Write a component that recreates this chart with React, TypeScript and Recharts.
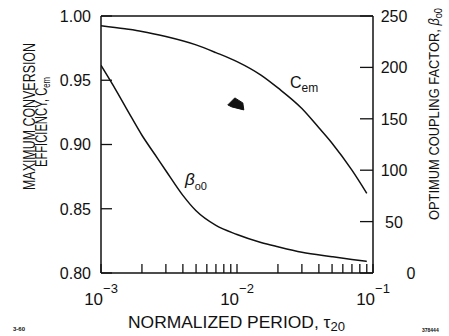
import React from 'react';
import { ComposedChart, Line, Scatter, XAxis, YAxis } from 'recharts';

// ---- data ----
const xTicks = [
  0.001, 0.002, 0.003, 0.004, 0.005, 0.006, 0.007, 0.008, 0.009,
  0.01, 0.02, 0.03, 0.04, 0.05, 0.06, 0.07, 0.08, 0.09, 0.1,
];
const xMajorTicks = [0.01];
const leftTicks = [0.8, 0.85, 0.9, 0.95, 1.0];
const leftTickLabels = ['0.80', '0.85', '0.90', '0.95', '1.00'];
const rightTicks = [0, 50, 100, 150, 200, 250];

const cemX = [0.001, 0.0015, 0.002, 0.003, 0.005, 0.007, 0.01, 0.015, 0.02, 0.03, 0.04, 0.05, 0.07, 0.09];
const cemY = [0.9925, 0.99, 0.988, 0.984, 0.9775, 0.9715, 0.9645, 0.954, 0.944, 0.928, 0.913, 0.901, 0.88, 0.862];

const betaX = [0.001, 0.0013, 0.0016, 0.002, 0.0025, 0.003, 0.004, 0.005, 0.007, 0.01, 0.015, 0.02, 0.03, 0.05, 0.07, 0.09];
const betaY = [202, 177, 156, 134, 115, 99.5, 75.5, 60.5, 46.3, 37.5, 29.7, 25.5, 20.2, 15.9, 13.2, 11.3];

const markX = [0.0098];
const markY = [0.9316];

const cemData = cemX.map((x, i) => ({ x, y: cemY[i] }));
const betaData = betaX.map((x, i) => ({ x, y: betaY[i] }));
const markData = markX.map((x, i) => ({ x, y: markY[i] }));

const INK = '#111';
const FONT = '"Liberation Sans", Arial, sans-serif';
const TICK_LINE = { stroke: INK, strokeWidth: 1.3 };

const isMajor = (v: number) => Math.abs(Math.log10(v) - Math.round(Math.log10(v))) < 1e-6;

const BottomTick = (props: any) => {
  const x = Number(props.x);
  const y = Number(props.y);
  const v = Number(props.payload.value);
  if (!isMajor(v)) return <g />;
  const exp = Math.round(Math.log10(v));
  return (
    <text x={x} y={y + 32} textAnchor="middle" fontFamily={FONT} fontSize={17} fill={INK} stroke="none">
      10
      <tspan dy={-12} fontSize={13}>{'\u2212' + Math.abs(exp)}</tspan>
    </text>
  );
};

const LeftTick = (props: any) => {
  const x = Number(props.x);
  const y = Number(props.y);
  const { payload, index } = props;
  return (
    <text x={x} y={y} dy="0.36em" textAnchor="end" fontFamily={FONT} fontSize={16} fill={INK} stroke="none">
      {leftTickLabels[index] ?? String(payload.value)}
    </text>
  );
};

const RightTick = (props: any) => {
  const x = Number(props.x);
  const y = Number(props.y);
  const v = Number(props.payload.value);
  return (
    <text x={x + (v === 0 ? 17 : 0)} y={y} dy="0.38em" textAnchor="middle" fontFamily={FONT} fontSize={16} fill={INK} stroke="none">
      {String(v)}
    </text>
  );
};

const Blob = (props: any) => {
  const { cx, cy } = props;
  if (cx == null || cy == null) return null;
  const d = `M${cx - 8},${cy + 1} L${cx - 1},${cy - 6} L${cx + 7},${cy - 1} L${cx + 8},${cy + 6} L${cx - 4},${cy + 3} Z`;
  return <path d={d} fill={INK} stroke={INK} strokeWidth={1} />;
};

const logAxis = {
  dataKey: 'x',
  type: 'number' as const,
  scale: 'log' as const,
  domain: [0.001, 0.1],
  allowDataOverflow: true,
  interval: 0 as const,
  height: 1,
};

export default function App() {
  const W = 449;
  const H = 336;
  return (
    <div style={{ position: 'absolute', left: 0, top: 0, width: W, height: H, background: '#fff' }}>
      <ComposedChart
        width={W}
        height={H}
        margin={{ top: 14, right: 75, bottom: 61, left: 100 }}
      >
        <XAxis
          {...logAxis}
          xAxisId="b"
          ticks={xTicks}
          orientation="bottom"
          tickSize={-9}
          tickMargin={9}
          tickLine={TICK_LINE}
          axisLine={{ stroke: INK, strokeWidth: 1.5 }}
          tick={BottomTick}
        />
        <XAxis
          {...logAxis}
          xAxisId="bm"
          ticks={xMajorTicks}
          orientation="bottom"
          tickSize={-13}
          tickMargin={0}
          tickLine={TICK_LINE}
          axisLine={false}
          tick={false}
        />
        <XAxis
          {...logAxis}
          xAxisId="t"
          ticks={xTicks}
          orientation="top"
          tickSize={-9}
          tickMargin={0}
          tickLine={TICK_LINE}
          axisLine={{ stroke: INK, strokeWidth: 1.5 }}
          tick={false}
        />
        <XAxis
          {...logAxis}
          xAxisId="tm"
          ticks={xMajorTicks}
          orientation="top"
          tickSize={-13}
          tickMargin={0}
          tickLine={TICK_LINE}
          axisLine={false}
          tick={false}
        />
        <YAxis
          yAxisId="l"
          type="number"
          domain={[0.8, 1.0]}
          allowDataOverflow
          ticks={leftTicks}
          interval={0}
          orientation="left"
          width={1}
          tickSize={-11}
          tickMargin={21}
          tickLine={TICK_LINE}
          axisLine={{ stroke: INK, strokeWidth: 1.5 }}
          tick={LeftTick}
        />
        <YAxis
          yAxisId="r"
          type="number"
          domain={[0, 250]}
          allowDataOverflow
          ticks={rightTicks}
          interval={0}
          orientation="right"
          width={1}
          tickSize={-13}
          tickMargin={34}
          tickLine={TICK_LINE}
          axisLine={{ stroke: INK, strokeWidth: 1.5 }}
          tick={RightTick}
        />
        <Line
          data={cemData}
          dataKey="y"
          xAxisId="b"
          yAxisId="l"
          type="monotone"
          stroke={INK}
          strokeWidth={1.5}
          dot={false}
          activeDot={false}
          isAnimationActive={false}
        />
        <Line
          data={betaData}
          dataKey="y"
          xAxisId="bm"
          yAxisId="r"
          type="monotone"
          stroke={INK}
          strokeWidth={1.5}
          dot={false}
          activeDot={false}
          isAnimationActive={false}
        />
        <Scatter
          data={markData}
          dataKey="y"
          xAxisId="t"
          yAxisId="l"
          shape={Blob}
          isAnimationActive={false}
        />
      </ComposedChart>
      <svg
        width={W}
        height={H}
        style={{ position: 'absolute', left: 0, top: 0, pointerEvents: 'none' }}
        fontFamily={FONT}
        fill={INK}
      >
        <text transform="translate(35,116.5) rotate(-90)" textAnchor="middle" fontSize={16} textLength={147} lengthAdjust="spacingAndGlyphs">
          MAXIMUM CONVERSION
        </text>
        <text transform="translate(47,122) rotate(-90)" textAnchor="middle" fontSize={16} textLength={90} lengthAdjust="spacingAndGlyphs">
          EFFICIENCY, C<tspan fontSize={11} dy={3}>em</tspan>
        </text>
        <text transform="translate(439,114) rotate(-90)" textAnchor="middle" fontSize={14} textLength={212} lengthAdjust="spacingAndGlyphs">
          OPTIMUM COUPLING FACTOR, <tspan fontStyle="italic">β</tspan><tspan fontSize={10} dy={3}>o0</tspan>
        </text>
        <text x={236.5} y={328} textAnchor="middle" fontSize={16} textLength={217} lengthAdjust="spacingAndGlyphs">
          NORMALIZED PERIOD, τ<tspan fontSize={12} dy={3}>20</tspan>
        </text>
        <text x={290} y={88} fontSize={16}>
          C<tspan fontSize={12} dy={3.5}>em</tspan>
        </text>
        <text x={185} y={184.5} fontSize={17}>
          <tspan fontStyle="italic">β</tspan><tspan fontSize={11} dy={5.5}>o0</tspan>
        </text>
        <text x={13} y={331} fontSize={6} fontWeight="bold">3-60</text>
        <text x={422} y={332} fontSize={5} fontWeight="bold">378444</text>
      </svg>
    </div>
  );
}
